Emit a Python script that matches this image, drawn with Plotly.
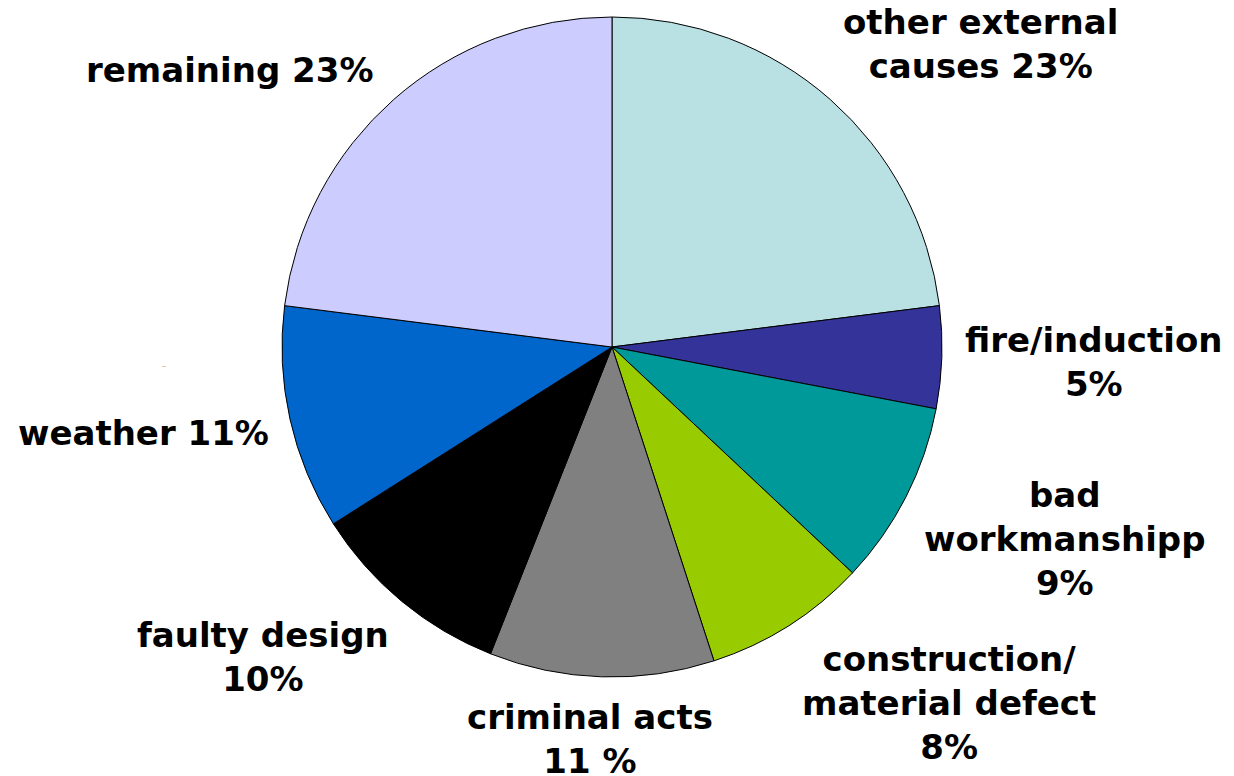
import plotly.graph_objects as go

# causes of damage, clockwise from 12 o'clock
causes = ['other external causes', 'fire/induction', 'bad workmanshipp',
          'construction/material defect', 'criminal acts', 'faulty design',
          'weather', 'remaining']
shares = [23, 5, 9, 8, 11, 10, 11, 23]
colors = ['#B9E0E3', '#333399', '#009999', '#99CC00', '#808080', '#000000',
          '#0066CC', '#CCCCFF']

# label text as it is printed next to each slice
label_text = ['other external<br>causes 23%', 'fire/induction<br>5%',
              'bad<br>workmanshipp<br>9%', 'construction/<br>material defect<br>8%',
              'criminal acts<br>11 %', 'faulty design<br>10%',
              'weather 11%', 'remaining 23%']

W, H = 1234, 776
off = 8  # page body margin in the browser
# label centres in pixels (from top-left of the window)
label_pos = [(980, 44), (1093, 362), (1065, 539), (949, 703),
             (590, 739), (263, 657), (143, 433), (229, 70)]

cx, cy, r = 612 - off, 347 - off, 330

fig = go.Figure()
fig.add_trace(go.Pie(
    labels=causes, values=shares, sort=False, direction='clockwise',
    rotation=0, textinfo='none', hoverinfo='label+percent',
    marker=dict(colors=colors, line=dict(color='#000000', width=1)),
    domain=dict(x=[(cx - r) / W, (cx + r) / W], y=[1 - (cy + r) / H, 1 - (cy - r) / H]),
    showlegend=False,
))

for txt, (px, py) in zip(label_text, label_pos):
    fig.add_annotation(x=(px - off) / W, y=1 - (py - off) / H, xref='paper', yref='paper',
                       text='<b>' + txt + '</b>', showarrow=False,
                       xanchor='center', yanchor='middle', align='center',
                       font=dict(family='DejaVu Sans', size=34, color='#000000'))

# small stray mark on the left
fig.add_annotation(x=(160 - off) / W, y=1 - (365 - off) / H, xref='paper', yref='paper',
                   text='‥', showarrow=False, font=dict(size=7, color='#666666'))

fig.update_layout(width=W, height=H, margin=dict(l=0, r=0, t=0, b=0),
                  paper_bgcolor='white', plot_bgcolor='white')

fig.write_html("out.html")
